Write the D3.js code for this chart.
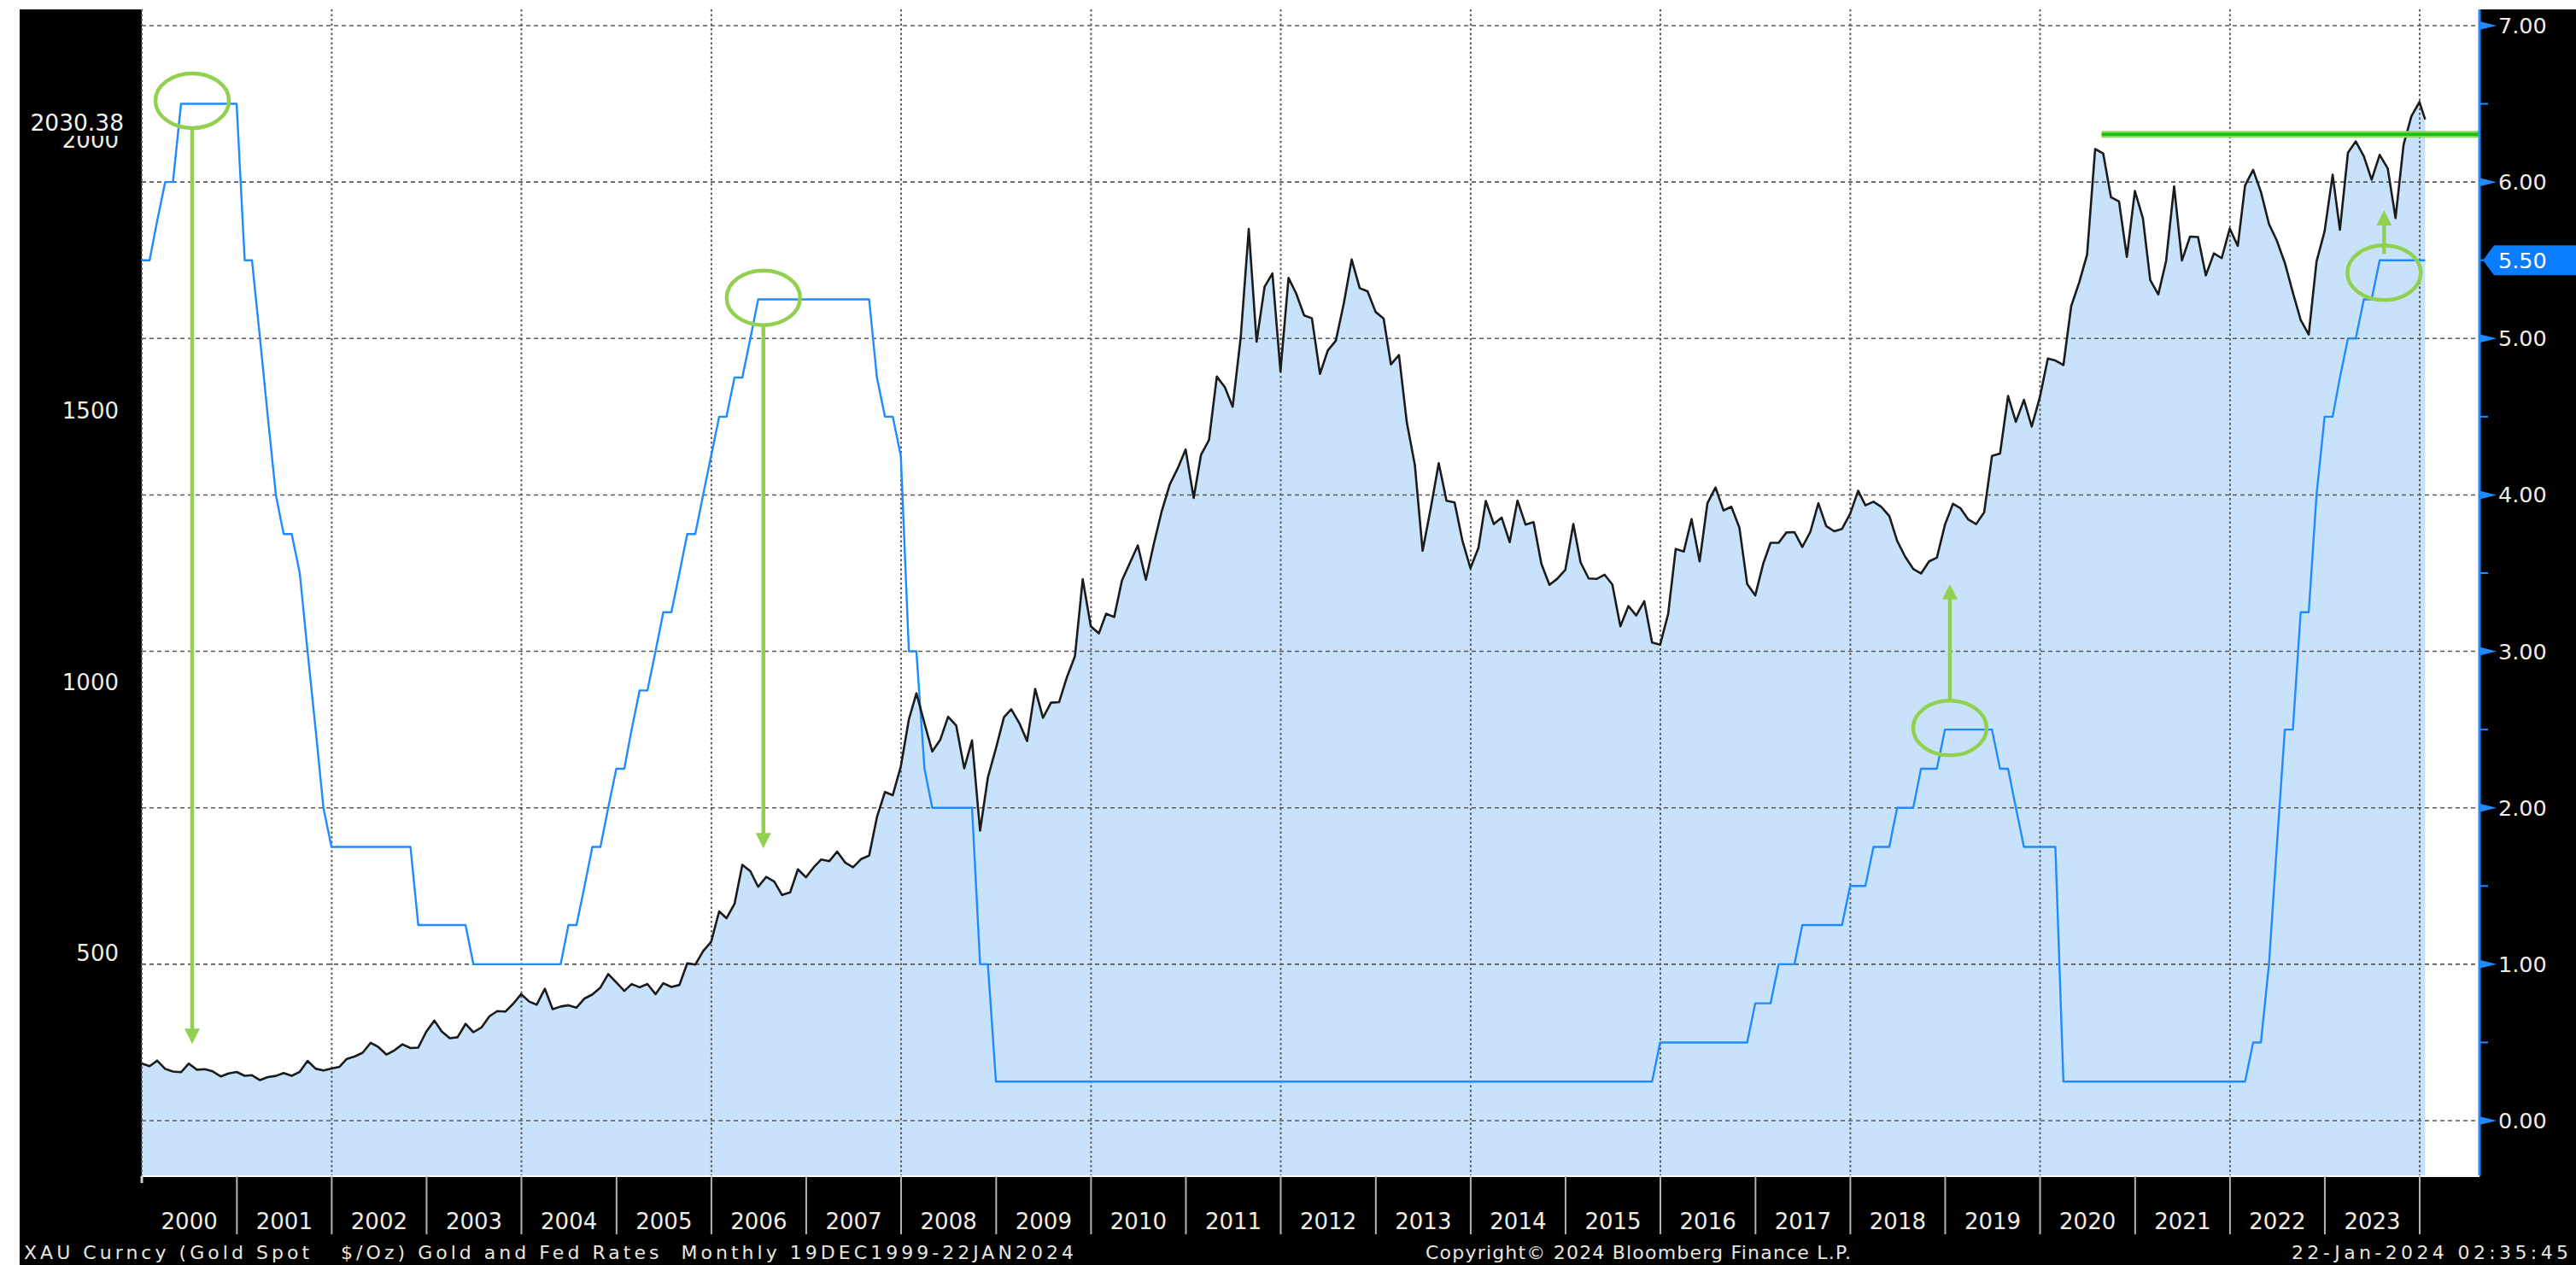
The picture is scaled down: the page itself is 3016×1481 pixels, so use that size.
<!DOCTYPE html>
<html><head><meta charset="utf-8">
<script src="https://cdn.jsdelivr.net/npm/d3@7"></script>
<style>html,body{margin:0;padding:0;background:#fff;} svg{display:block;}</style>
</head><body>
<svg id="chart" width="3016" height="1481"></svg>
<script>
// ---------- DATA ----------
// Monthly observations, first = Dec 1999, last = 22 Jan 2024
const firstMonth = { year: 1999, month: 11 };
const lastObsDate = "2024-01-22";

const goldClose = [
  288.4,
  283.3, 293.7, 278.4, 273.6, 272.3, 288.2, 276.8, 277.9, 273.7, 264.5, 269.9, 272.7,
  265.6, 266.7, 257.7, 263.2, 265.4, 270.6, 265.6, 273.0, 293.1, 278.8, 275.5, 278.9,
  282.3, 296.9, 301.4, 308.2, 326.6, 318.5, 304.7, 312.8, 323.7, 316.9, 317.7, 347.2,
  367.5, 347.5, 334.9, 336.7, 361.4, 346.0, 354.8, 375.6, 385.0, 384.1, 398.4, 416.3,
  402.5, 396.9, 426.3, 388.5, 393.5, 395.8, 391.4, 408.3, 415.7, 428.5, 453.4, 438.0,
  422.2, 434.9, 428.9, 435.0, 416.3, 436.5, 429.6, 433.3, 473.3, 470.8, 495.7, 513.0,
  569.0, 556.4, 582.9, 654.9, 643.1, 614.4, 632.7, 623.9, 599.3, 604.1, 646.7, 632.0,
  651.1, 664.9, 661.8, 679.4, 659.1, 650.5, 665.5, 672.0, 743.0, 789.4, 783.5, 836.5,
  923.3, 971.5, 916.2, 864.1, 886.0, 928.3, 912.2, 833.0, 884.5, 718.0, 816.1, 869.8,
  927.4, 942.0, 916.5, 883.3, 979.5, 926.4, 954.2, 955.2, 1001.0, 1040.0, 1182.0, 1095.2,
  1082.0, 1118.4, 1112.3, 1179.8, 1212.7, 1244.5, 1181.0, 1248.0, 1307.5, 1357.0, 1386.1, 1421.4,
  1332.1, 1411.2, 1439.0, 1556.0, 1536.5, 1500.4, 1628.3, 1828.5, 1620.4, 1722.0, 1746.4, 1565.8,
  1738.0, 1709.9, 1668.9, 1663.6, 1560.9, 1604.0, 1622.1, 1691.8, 1772.1, 1719.1, 1713.5, 1675.4,
  1663.1, 1578.4, 1595.7, 1472.1, 1393.1, 1234.6, 1312.4, 1396.1, 1327.0, 1323.6, 1253.4, 1202.3,
  1240.1, 1326.5, 1283.8, 1295.9, 1250.5, 1327.3, 1282.8, 1287.4, 1210.5, 1171.6, 1182.8, 1199.3,
  1283.8, 1213.0, 1183.4, 1182.5, 1190.4, 1172.4, 1095.2, 1132.5, 1115.1, 1141.3, 1065.3, 1061.1,
  1118.1, 1238.0, 1233.0, 1293.0, 1214.9, 1322.2, 1351.3, 1309.0, 1315.8, 1277.3, 1173.3, 1152.1,
  1211.1, 1249.2, 1249.2, 1268.3, 1268.9, 1241.6, 1269.3, 1322.2, 1280.2, 1270.5, 1275.0, 1302.7,
  1345.2, 1318.4, 1325.0, 1315.7, 1298.6, 1253.0, 1223.6, 1201.1, 1192.5, 1214.9, 1221.9, 1282.5,
  1321.3, 1313.3, 1292.3, 1283.7, 1305.6, 1409.5, 1413.8, 1520.3, 1472.5, 1513.1, 1463.9, 1517.3,
  1589.2, 1585.7, 1577.2, 1686.2, 1730.3, 1780.9, 1975.9, 1967.9, 1886.9, 1879.0, 1776.9, 1898.4,
  1847.7, 1734.0, 1707.7, 1769.1, 1907.0, 1770.1, 1814.2, 1813.6, 1742.8, 1783.4, 1774.5, 1829.2,
  1797.2, 1908.7, 1937.4, 1896.9, 1837.6, 1807.3, 1765.9, 1711.0, 1660.6, 1633.6, 1768.5, 1824.0,
  1928.4, 1826.9, 1969.3, 1990.0, 1962.7, 1919.4, 1965.1, 1940.2, 1848.6, 1983.9, 2036.4, 2062.6,
  2030.38
];

const fedRate = [
  5.50,
  5.50, 5.75, 6.00, 6.00, 6.50, 6.50, 6.50, 6.50, 6.50, 6.50, 6.50, 6.50,
  5.50, 5.50, 5.00, 4.50, 4.00, 3.75, 3.75, 3.50, 3.00, 2.50, 2.00, 1.75,
  1.75, 1.75, 1.75, 1.75, 1.75, 1.75, 1.75, 1.75, 1.75, 1.75, 1.25, 1.25,
  1.25, 1.25, 1.25, 1.25, 1.25, 1.00, 1.00, 1.00, 1.00, 1.00, 1.00, 1.00,
  1.00, 1.00, 1.00, 1.00, 1.00, 1.25, 1.25, 1.50, 1.75, 1.75, 2.00, 2.25,
  2.25, 2.50, 2.75, 2.75, 3.00, 3.25, 3.25, 3.50, 3.75, 3.75, 4.00, 4.25,
  4.50, 4.50, 4.75, 4.75, 5.00, 5.25, 5.25, 5.25, 5.25, 5.25, 5.25, 5.25,
  5.25, 5.25, 5.25, 5.25, 5.25, 5.25, 5.25, 5.25, 4.75, 4.50, 4.50, 4.25,
  3.00, 3.00, 2.25, 2.00, 2.00, 2.00, 2.00, 2.00, 2.00, 1.00, 1.00, 0.25,
  0.25, 0.25, 0.25, 0.25, 0.25, 0.25, 0.25, 0.25, 0.25, 0.25, 0.25, 0.25,
  0.25, 0.25, 0.25, 0.25, 0.25, 0.25, 0.25, 0.25, 0.25, 0.25, 0.25, 0.25,
  0.25, 0.25, 0.25, 0.25, 0.25, 0.25, 0.25, 0.25, 0.25, 0.25, 0.25, 0.25,
  0.25, 0.25, 0.25, 0.25, 0.25, 0.25, 0.25, 0.25, 0.25, 0.25, 0.25, 0.25,
  0.25, 0.25, 0.25, 0.25, 0.25, 0.25, 0.25, 0.25, 0.25, 0.25, 0.25, 0.25,
  0.25, 0.25, 0.25, 0.25, 0.25, 0.25, 0.25, 0.25, 0.25, 0.25, 0.25, 0.25,
  0.25, 0.25, 0.25, 0.25, 0.25, 0.25, 0.25, 0.25, 0.25, 0.25, 0.25, 0.50,
  0.50, 0.50, 0.50, 0.50, 0.50, 0.50, 0.50, 0.50, 0.50, 0.50, 0.50, 0.75,
  0.75, 0.75, 1.00, 1.00, 1.00, 1.25, 1.25, 1.25, 1.25, 1.25, 1.25, 1.50,
  1.50, 1.50, 1.75, 1.75, 1.75, 2.00, 2.00, 2.00, 2.25, 2.25, 2.25, 2.50,
  2.50, 2.50, 2.50, 2.50, 2.50, 2.50, 2.25, 2.25, 2.00, 1.75, 1.75, 1.75,
  1.75, 1.75, 0.25, 0.25, 0.25, 0.25, 0.25, 0.25, 0.25, 0.25, 0.25, 0.25,
  0.25, 0.25, 0.25, 0.25, 0.25, 0.25, 0.25, 0.25, 0.25, 0.25, 0.25, 0.25,
  0.25, 0.25, 0.50, 0.50, 1.00, 1.75, 2.50, 2.50, 3.25, 3.25, 4.00, 4.50,
  4.50, 4.75, 5.00, 5.00, 5.25, 5.25, 5.50, 5.50, 5.50, 5.50, 5.50, 5.50,
  5.50
];

const yearLabels = ["2000","2001","2002","2003","2004","2005","2006","2007","2008","2009","2010","2011",
                    "2012","2013","2014","2015","2016","2017","2018","2019","2020","2021","2022","2023"];
const goldTicks = [500, 1000, 1500, 2000];
const rateTicks = [0, 1, 2, 3, 4, 5, 6, 7];
const rateMinorTicks = [0.5, 1.5, 2.5, 3.5, 4.5, 5.5, 6.5];
const lastGoldLabel = "2030.38";
const lastRateLabel = "5.50";
const footerLeft = "XAU Curncy (Gold Spot   $/Oz) Gold and Fed Rates  Monthly 19DEC1999-22JAN2024";
const footerMid = "Copyright\u00A9 2024 Bloomberg Finance L.P.";
const footerRight = "22-Jan-2024 02:35:45";

// hand-drawn green annotations (date, fed-rate level)
const circleNotes = [
  { date: "2000-07-13", rate: 6.52 },
  { date: "2006-07-20", rate: 5.26 },
  { date: "2019-01-19", rate: 2.51 },
  { date: "2023-08-17", rate: 5.42 }
];
const arrowNotes = [
  { date: "2000-07-13", from: 6.34, to: 0.49 },
  { date: "2006-07-20", from: 5.08, to: 1.74 },
  { date: "2019-01-19", from: 2.68, to: 3.43 },
  { date: "2023-08-17", from: 5.54, to: 5.82 }
];
const levelNote = { from: "2020-08-25", gold: 2003 };

// ---------- LAYOUT ----------
const W = 3016, H = 1481;
const plot = { left: 166, right: 2903, top: 11, bottom: 1377 };
const FONT = "DejaVu Sans, Tahoma, Verdana, sans-serif";
const LABEL = "#f1ede2";

const parse = d3.timeParse("%Y-%m-%d");
const data = goldClose.map((g, i) => {
  const isLast = i === goldClose.length - 1;
  const date = isLast ? parse(lastObsDate)
    : new Date(firstMonth.year, firstMonth.month + i + 1, 0);
  return { date, gold: g, rate: fedRate[i] };
});

const x = d3.scaleTime()
  .domain([new Date(2000, 0, 1), new Date(2024, 0, 1)])
  .range([166, 2833]);
const yGold = d3.scaleLinear().domain([0, 2000]).range([1428, 159.2]);
const yRate = d3.scaleLinear().domain([0, 7]).range([1312, 30]);

const svg = d3.select("#chart");

// frame
svg.append("rect").attr("x", 0).attr("y", 0).attr("width", W).attr("height", H).attr("fill", "#fff");
svg.append("rect").attr("x", 23).attr("y", 11).attr("width", W - 23).attr("height", H - 11).attr("fill", "#000");
svg.append("rect").attr("x", plot.left).attr("y", 0).attr("width", plot.right - plot.left)
  .attr("height", plot.bottom + 1).attr("fill", "#fff");

const g = svg.append("g");
const clipId = "plotclip";
svg.append("defs").append("clipPath").attr("id", clipId).append("rect")
  .attr("x", plot.left).attr("y", 0).attr("width", plot.right - plot.left).attr("height", plot.bottom - 1);

// gold area
g.append("path").datum(data)
  .attr("clip-path", `url(#${clipId})`)
  .attr("fill", "#c9e2fb")
  .attr("d", d3.area().x(d => x(d.date)).y0(plot.bottom - 1).y1(d => yGold(d.gold)));

// gridlines
g.append("g").selectAll("line").data(rateTicks).join("line")
  .attr("x1", plot.left).attr("x2", plot.right)
  .attr("y1", d => yRate(d)).attr("y2", d => yRate(d))
  .attr("stroke", "#5a5a5a").attr("stroke-width", 1.6).attr("stroke-dasharray", "5,4");
const gridYears = d3.range(2000, 2025, 2).map(yr => new Date(yr, 0, 1));
g.append("g").selectAll("line").data(gridYears).join("line")
  .attr("x1", d => x(d)).attr("x2", d => x(d))
  .attr("y1", plot.top).attr("y2", plot.bottom)
  .attr("stroke", "#5a5a5a").attr("stroke-width", 2).attr("stroke-dasharray", "2.5,3");

// fed rate line
g.append("path").datum(data)
  .attr("fill", "none").attr("stroke", "#1f8bff").attr("stroke-width", 2.4)
  .attr("stroke-linejoin", "round")
  .attr("d", d3.line().x(d => x(d.date)).y(d => yRate(d.rate)));

// gold line
g.append("path").datum(data)
  .attr("fill", "none").attr("stroke", "#1b1b1b").attr("stroke-width", 2.6)
  .attr("stroke-linejoin", "round")
  .attr("d", d3.line().x(d => x(d.date)).y(d => yGold(d.gold)));

// ---------- annotations ----------
const green = "#92d050";
const ann = svg.append("g");
ann.selectAll("ellipse").data(circleNotes).join("ellipse")
  .attr("cx", d => x(parse(d.date))).attr("cy", d => yRate(d.rate))
  .attr("rx", 43).attr("ry", 32)
  .attr("fill", "none").attr("stroke", green).attr("stroke-width", 4.5);
arrowNotes.forEach(a => {
  const ax = x(parse(a.date));
  const y1 = yRate(a.from), y2 = yRate(a.to);
  const dir = y2 > y1 ? 1 : -1;
  const headLen = 18, headW = 9;
  ann.append("line").attr("x1", ax).attr("x2", ax).attr("y1", y1).attr("y2", y2 - dir * headLen + dir * 1)
    .attr("stroke", green).attr("stroke-width", 4.5);
  ann.append("path")
    .attr("d", `M${ax - headW},${y2 - dir * headLen} L${ax + headW},${y2 - dir * headLen} L${ax},${y2} Z`)
    .attr("fill", green);
});
const ly = yGold(levelNote.gold);
ann.append("line").attr("x1", x(parse(levelNote.from))).attr("x2", plot.right)
  .attr("y1", ly).attr("y2", ly).attr("stroke", "#8fd45a").attr("stroke-width", 8);
ann.append("line").attr("x1", x(parse(levelNote.from))).attr("x2", plot.right)
  .attr("y1", ly).attr("y2", ly).attr("stroke", "#14c214").attr("stroke-width", 3.5);

// ---------- right axis ----------
const ra = svg.append("g");
ra.append("line").attr("x1", plot.right).attr("x2", plot.right).attr("y1", plot.top).attr("y2", plot.bottom)
  .attr("stroke", "#1f8bff").attr("stroke-width", 3);
ra.selectAll("path.tri").data(rateTicks).join("path").attr("class", "tri")
  .attr("d", d => `M${plot.right},${yRate(d) - 5} L${plot.right + 20},${yRate(d)} L${plot.right},${yRate(d) + 5} Z`)
  .attr("fill", "#1f8bff");
ra.selectAll("line.minor").data(rateMinorTicks).join("line").attr("class", "minor")
  .attr("x1", plot.right).attr("x2", plot.right + 10)
  .attr("y1", d => yRate(d)).attr("y2", d => yRate(d))
  .attr("stroke", "#1f8bff").attr("stroke-width", 2);
ra.selectAll("text").data(rateTicks).join("text")
  .attr("x", 2925).attr("y", d => yRate(d) + 9)
  .attr("font-family", FONT).attr("font-size", 25.5).attr("fill", LABEL)
  .text(d => d3.format(".2f")(d));
// last rate tag
const ry = yRate(+lastRateLabel);
ra.append("path")
  .attr("d", `M${plot.right + 4},${ry} L${plot.right + 17},${ry - 17.5} L${W},${ry - 17.5} L${W},${ry + 17.5} L${plot.right + 17},${ry + 17.5} Z`)
  .attr("fill", "#0a7cff");
ra.append("text").attr("x", 2925).attr("y", ry + 9.5)
  .attr("font-family", FONT).attr("font-size", 25.5).attr("fill", "#ffffff").text(lastRateLabel);

// ---------- left axis ----------
const la = svg.append("g");
la.selectAll("text").data(goldTicks).join("text")
  .attr("x", 139).attr("y", d => yGold(d) + 14).attr("text-anchor", "end")
  .attr("font-family", FONT).attr("font-size", 26).attr("fill", LABEL)
  .text(d => d);
const lgY = yGold(+lastGoldLabel);
la.append("rect").attr("x", 23).attr("y", lgY - 12).attr("width", 142).attr("height", 31).attr("fill", "#000");
la.append("text").attr("x", 145).attr("y", lgY + 13).attr("text-anchor", "end")
  .attr("font-family", FONT).attr("font-size", 26.5).attr("fill", "#f6f2ea").text(lastGoldLabel);

// ---------- bottom axis ----------
const ba = svg.append("g");
ba.append("line").attr("x1", plot.left).attr("x2", plot.right).attr("y1", plot.bottom).attr("y2", plot.bottom)
  .attr("stroke", "#ffffff").attr("stroke-width", 2);
const yearStarts = d3.range(2001, 2025).map(yr => new Date(yr, 0, 1));
ba.selectAll("line.tick").data(yearStarts).join("line").attr("class", "tick")
  .attr("x1", d => x(d)).attr("x2", d => x(d)).attr("y1", plot.bottom).attr("y2", 1445)
  .attr("stroke", "#b4b4b4").attr("stroke-width", 2);
ba.append("line").attr("x1", x(new Date(2000, 0, 1))).attr("x2", x(new Date(2000, 0, 1)))
  .attr("y1", plot.bottom).attr("y2", 1385).attr("stroke", "#d0d0d0").attr("stroke-width", 3);
ba.selectAll("text").data(yearLabels).join("text")
  .attr("x", d => (x(new Date(+d, 0, 1)) + x(new Date(+d + 1, 0, 1))) / 2)
  .attr("y", 1439).attr("text-anchor", "middle")
  .attr("font-family", FONT).attr("font-size", 26).attr("fill", LABEL)
  .text(d => d);

// ---------- footer ----------
const ft = svg.append("g").attr("font-family", FONT).attr("font-size", 22).attr("fill", "#e9e6df");
const addFooter = (txt, x0, len) => ft.append("text")
  .attr("x", x0).attr("y", 1474)
  .attr("xml:space", "preserve").style("white-space", "pre")
  .attr("textLength", len).attr("lengthAdjust", "spacing")
  .text(txt);
addFooter(footerLeft, 28, 1229);
addFooter(footerMid, 1669, 498);
addFooter(footerRight, 2683, 324);
</script>
</body></html>
